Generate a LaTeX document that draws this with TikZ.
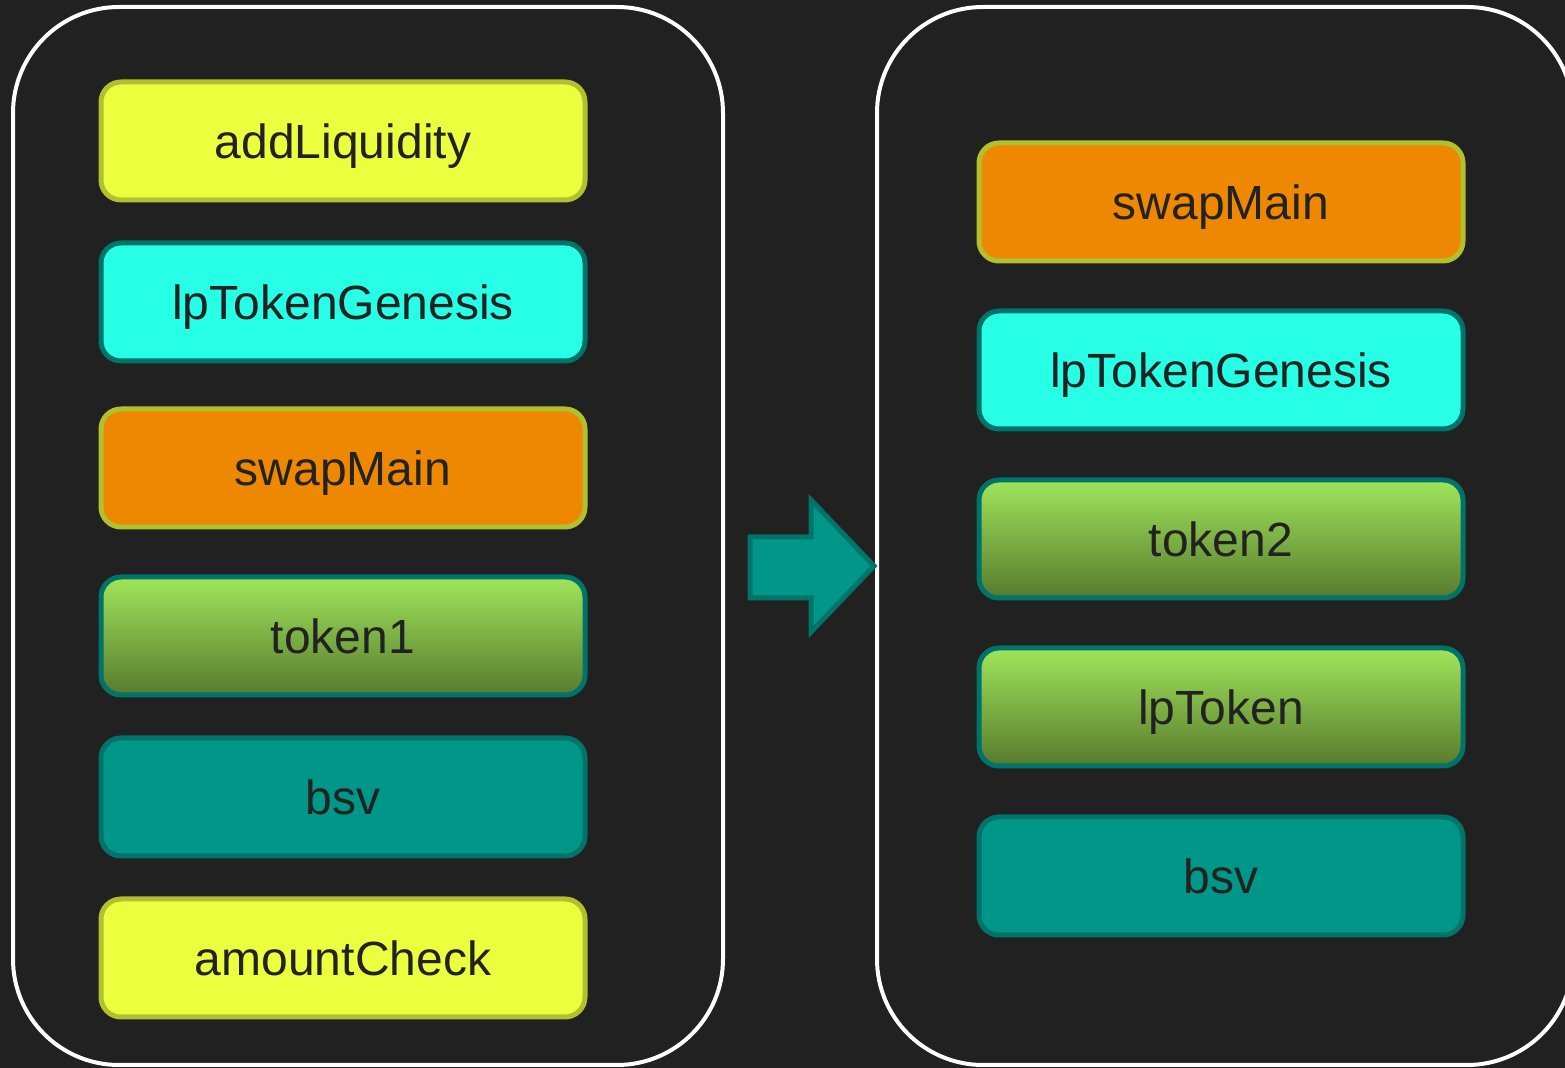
\documentclass[tikz,border=0pt]{standalone}
\usepackage{fontspec}
\setmainfont{Liberation Sans}
\definecolor{bgdark}{HTML}{212121}
\definecolor{inkdark}{HTML}{222222}
\definecolor{lemon}{HTML}{EBFF3F}
\definecolor{olive}{HTML}{B2BF2E}
\definecolor{aqua}{HTML}{26FFE6}
\definecolor{tealedge}{HTML}{00736A}
\definecolor{tealfill}{HTML}{009688}
\definecolor{amber}{HTML}{EE8800}
\definecolor{leaftop}{HTML}{A0E55A}
\definecolor{leafbot}{HTML}{587A2E}
\tikzset{
  x=0.5pt, y=-0.5pt,
  blockbase/.style={rounded corners=10pt, line width=2.5pt,
    minimum width=242pt, minimum height=59pt, inner sep=0pt,
    text=inkdark, font=\fontsize{24pt}{28pt}\selectfont,
    text height=18pt, text depth=0pt},
  yellowbox/.style={blockbase, draw=olive, fill=lemon},
  cyanbox/.style={blockbase, draw=tealedge, fill=aqua},
  orangebox/.style={blockbase, draw=olive, fill=amber},
  greenbox/.style={blockbase, draw=tealedge, top color=leaftop, bottom color=leafbot},
  tealbox/.style={blockbase, draw=tealedge, fill=tealfill},
  container/.style={draw=white, line width=2pt, rounded corners=53pt},
}
\begin{document}
\begin{tikzpicture}
  % canvas
  \fill[bgdark] (0,0) rectangle (1565,1068);
  \useasboundingbox (0,0) rectangle (1565,1068);

  % the two framed groups
  \draw[container] (13,7) rectangle (723,1065);
  \draw[container] (877,7) rectangle (1573,1065);

  % left group
  \node[yellowbox] (addliq)  at (343,141) {addLiquidity};
  \node[cyanbox]   (lpgenL)  at (343,302) {lpTokenGenesis};
  \node[orangebox] (swapL)   at (343,468) {swapMain};
  \node[greenbox]  (tok1)    at (343,636) {token1};
  \node[tealbox]   (bsvL)    at (343,797) {bsv};
  \node[yellowbox] (amtchk)  at (343,958) {amountCheck};

  % right group
  \node[orangebox] (swapR)   at (1221,202) {swapMain};
  \node[cyanbox]   (lpgenR)  at (1221,370) {lpTokenGenesis};
  \node[greenbox]  (tok2)    at (1221,539) {token2};
  \node[greenbox]  (lptok)   at (1221,707) {lpToken};
  \node[tealbox]   (bsvR)    at (1221,876) {bsv};

  % transition arrow between the groups
  \draw[draw=tealedge, fill=tealfill, line width=2.5pt, line join=miter]
    (750,537) -- (811,537) -- (811,500) -- (874,566) -- (811,632)
    -- (811,598) -- (750,598) -- cycle;
\end{tikzpicture}
\end{document}
